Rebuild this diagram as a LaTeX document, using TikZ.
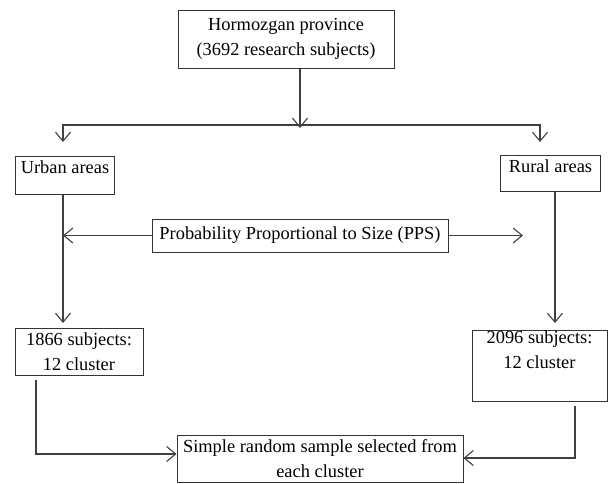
\documentclass[tikz,border=0pt]{standalone}
\usepackage{fontspec}
\setmainfont{Liberation Serif}
\usetikzlibrary{arrows.meta}

\begin{document}
\begin{tikzpicture}[x=1pt, y=-1pt, line width=1pt,
    >={Straight Barb[length=9pt, width=15pt]},
    box/.style={draw=black!80, inner sep=0pt, align=center, font=\fontsize{18.4}{25}\selectfont},
    link/.style={draw=black!75, line width=1.1pt}]
    \useasboundingbox (0,0) rectangle (608,483);

    \node (prov) at (286,39) [box, minimum width=216, minimum height=58] {Hormozgan province\\(3692 research subjects)};
    \node (urban) at (15,156) [box, anchor=north west, minimum width=99, text height=17pt, text depth=21pt] {Urban areas};
    \node (rural) at (500,155) [box, anchor=north west, minimum width=100, text height=17pt, text depth=19pt] {Rural areas};
    \node (pps) at (300,235.5) [box, minimum width=296, minimum height=33] {Probability Proportional to Size (PPS)};
    \node (c1866) at (79,351.5) [box, minimum width=128, minimum height=47] {1866 subjects:\\12 cluster};
    \node (c2096) at (539.5,366) [box, minimum width=135, minimum height=66] {2096 subjects:\\12 cluster\\\strut};
    \node (sample) at (320,458.5) [box, minimum width=286, minimum height=47] {Simple random sample selected from\\each cluster};

    \coordinate (split) at (300,125);
    \coordinate (uend) at (63,142);
    \coordinate (rend) at (540,142);
    \coordinate (utip) at (63,323);
    \coordinate (rtip) at (555,323);
    \coordinate (ppsr) at (523,0);
    \coordinate (lcorner) at (36,454);
    \coordinate (rcorner) at (575,458);

    \draw[link, ->] (prov.south -| split) -- ([yshift=-3pt]split);
    \draw[link, ->] (split) -| (uend);
    \draw[link, ->] (split) -| (rend);

    \draw[link, ->] (urban.south -| utip) -- (utip);
    \draw[link, ->] (rural.south -| rtip) -- (rtip);
    \draw[link, ->] (pps.west) -- (pps.west -| utip);
    \draw[link, ->] (pps.east) -- (pps.east -| ppsr);

    \draw[link, ->, shorten <=4pt] (c1866.south -| lcorner) -- (lcorner) -- (lcorner -| sample.west);
    \draw[link, ->, shorten <=4pt, shorten >=-6pt] (c2096.south -| rcorner) -- (rcorner) -- ([xshift=6pt]rcorner -| sample.east);
\end{tikzpicture}
\end{document}
